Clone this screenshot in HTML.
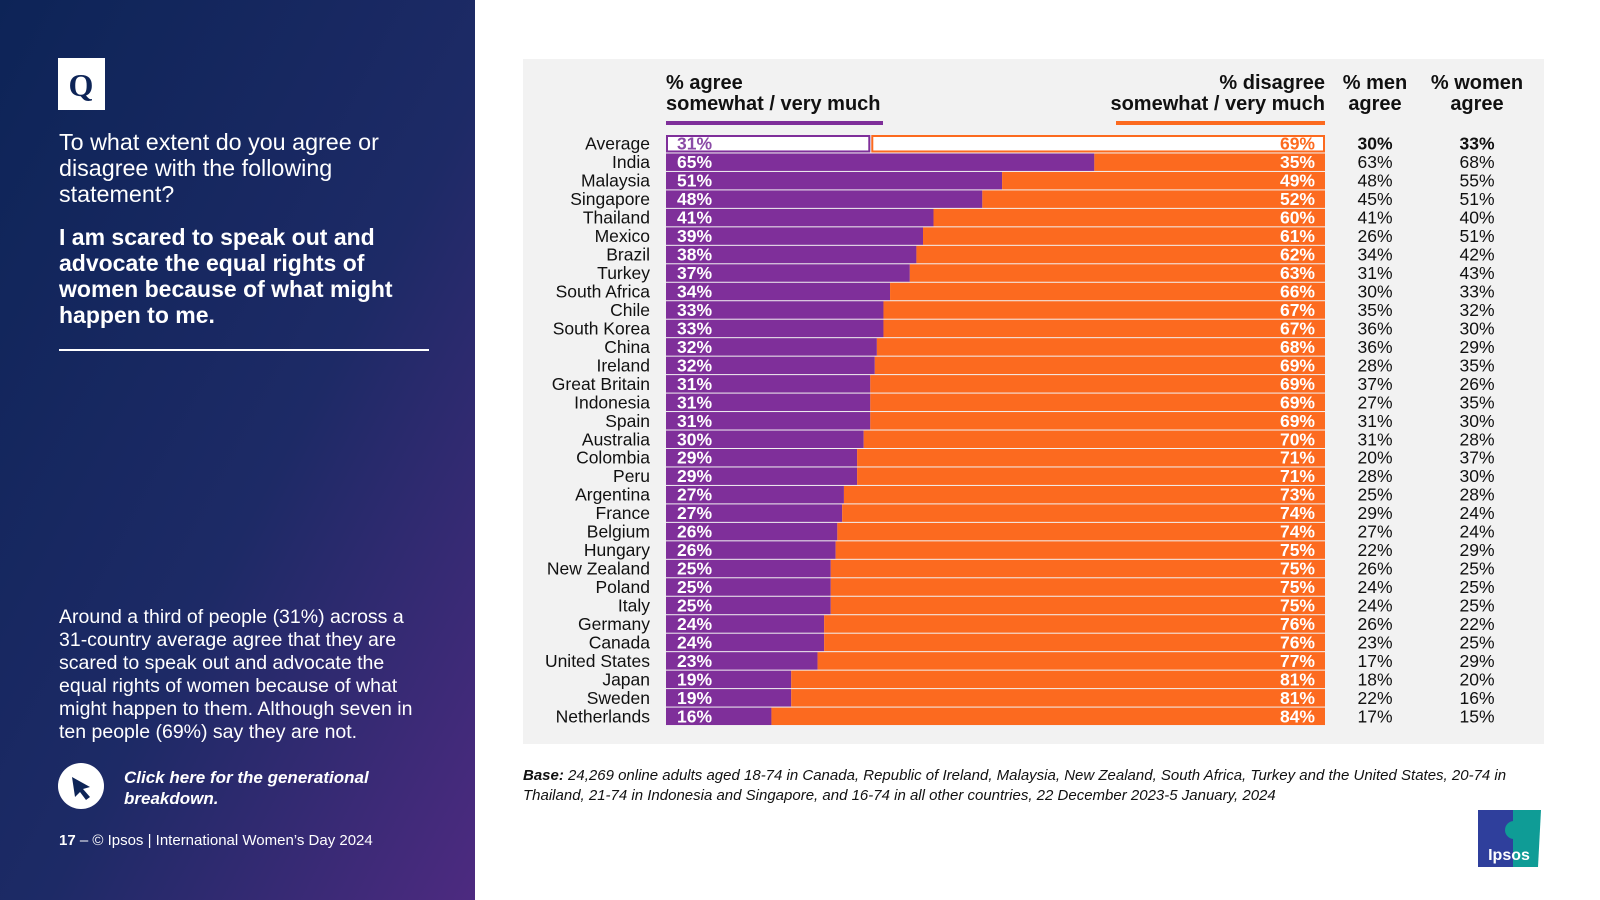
<!DOCTYPE html>
<html><head><meta charset="utf-8"><style>
body{margin:0;width:1600px;height:900px;overflow:hidden;background:#fff;font-family:"Liberation Sans",Arial,sans-serif;}
svg{display:block}
</style></head><body>
<svg width="1600" height="900">
<defs><linearGradient id="g" x1="0" y1="0" x2="1" y2="1"><stop offset="0" stop-color="#0d2457"/><stop offset="0.55" stop-color="#1d2a66"/><stop offset="1" stop-color="#4d2a80"/></linearGradient></defs>
<rect x="0" y="0" width="475" height="900" fill="url(#g)"/>
<rect x="58" y="58" width="47" height="52" fill="#fff"/>
<text x="81" y="96" text-anchor="middle" font-size="32" font-weight="bold" fill="#0d2457" font-family="Liberation Serif,serif">Q</text>
<g fill="#fff" font-size="23.3">
<text x="59" y="150">To what extent do you agree or</text>
<text x="59" y="176">disagree with the following</text>
<text x="59" y="202">statement?</text></g>
<g fill="#fff" font-size="23" font-weight="bold">
<text x="59" y="245">I am scared to speak out and</text>
<text x="59" y="271">advocate the equal rights of</text>
<text x="59" y="297">women because of what might</text>
<text x="59" y="323">happen to me.</text></g>
<rect x="59" y="349" width="370" height="2" fill="#fff"/>
<g fill="#fff" font-size="19.5">
<text x="59" y="623">Around a third of people (31%) across a</text>
<text x="59" y="646">31-country average agree that they are</text>
<text x="59" y="669">scared to speak out and advocate the</text>
<text x="59" y="692">equal rights of women because of what</text>
<text x="59" y="715">might happen to them. Although seven in</text>
<text x="59" y="738">ten people (69%) say they are not.</text></g>
<g>
<circle cx="81" cy="786" r="23" fill="#fff"/>
<path d="M72 777 L90 787 L83 789 L90 797 L86 800 L80 792 L75 797 Z" fill="#0d2457"/>
<text x="124" y="783" fill="#fff" font-size="17" font-style="italic" font-weight="bold">Click here for the generational</text>
<text x="124" y="804" fill="#fff" font-size="17" font-style="italic" font-weight="bold">breakdown.</text></g>
<text x="59" y="845" fill="#fff" font-size="15"><tspan font-weight="bold">17</tspan> – © Ipsos | International Women’s Day 2024</text>
<rect x="523" y="59" width="1021" height="685" fill="#f2f2f2"/>
<g font-size="20" font-weight="bold" fill="#111">
<text x="666" y="89">% agree</text><text x="666" y="110">somewhat / very much</text>
<text x="1325" y="89" text-anchor="end">% disagree</text><text x="1325" y="110" text-anchor="end">somewhat / very much</text>
<text x="1375" y="89" text-anchor="middle">% men</text><text x="1375" y="110" text-anchor="middle">agree</text>
<text x="1477" y="89" text-anchor="middle">% women</text><text x="1477" y="110" text-anchor="middle">agree</text></g>
<rect x="666" y="121" width="217" height="4" fill="#7f2f9a"/>
<rect x="1116" y="121" width="209" height="4" fill="#fc6a1f"/>
<g id="chart"></g>
<text x="523" y="780" font-size="15" font-style="italic" fill="#111"><tspan font-weight="bold">Base:</tspan> 24,269 online adults aged 18-74 in Canada, Republic of Ireland, Malaysia, New Zealand, South Africa, Turkey and the United States, 20-74 in</text>
<text x="523" y="800" font-size="15" font-style="italic" fill="#111">Thailand, 21-74 in Indonesia and Singapore, and 16-74 in all other countries, 22 December 2023-5 January, 2024</text>
<g>
<rect x="1478" y="810" width="35" height="57" fill="#2f3f9c"/><path d="M1513 810 H1541 L1538 867 H1513 Z" fill="#0f9c96"/>
<circle cx="1514" cy="830" r="9" fill="#0f9c96"/><text x="1509" y="860" text-anchor="middle" fill="#fff" font-size="16" font-weight="bold">Ipsos</text></g>
</svg>
<script>
const countries=["Average","India","Malaysia","Singapore","Thailand","Mexico","Brazil","Turkey","South Africa","Chile","South Korea","China","Ireland","Great Britain","Indonesia","Spain","Australia","Colombia","Peru","Argentina","France","Belgium","Hungary","New Zealand","Poland","Italy","Germany","Canada","United States","Japan","Sweden","Netherlands"];
const agree=[31,65,51,48,41,39,38,37,34,33,33,32,32,31,31,31,30,29,29,27,27,26,26,25,25,25,24,24,23,19,19,16];
const disagree=[69,35,49,52,60,61,62,63,66,67,67,68,69,69,69,69,70,71,71,73,74,74,75,75,75,75,76,76,77,81,81,84];
const men=[30,63,48,45,41,26,34,31,30,35,36,36,28,37,27,31,31,20,28,25,29,27,22,26,24,24,26,23,17,18,22,17];
const women=[33,68,55,51,40,51,42,43,33,32,30,29,35,26,35,30,28,37,30,28,24,24,29,25,25,25,22,25,29,20,16,15];
const NS="http://www.w3.org/2000/svg";
const g=document.getElementById('chart');
const x0=666,x1=1325,y0=135,pitch=18.47;
const xs=v=>x0+(x1-x0)*v/100;
const ys=i=>y0+i*pitch;
function mk(tag,attrs,txt){const e=document.createElementNS(NS,tag);for(const k in attrs)e.setAttribute(k,attrs[k]);if(txt!=null)e.textContent=txt;g.appendChild(e);return e;}
countries.forEach((c,i)=>{
  const y=ys(i),h=pitch-1,avg=i===0;
  const tot=agree[i]+disagree[i];
  const xa=xs(agree[i]*100/tot);
  let e=mk('rect',avg?{x:x0+1,y:y+1,width:xa-x0-2,height:h-2,fill:'#fff',stroke:'#7f2f9a','stroke-width':2}:{x:x0,y:y,width:xa-x0,height:h,fill:'#7f2f9a'});
  
  
  e=mk('rect',avg?{x:xa+2,y:y+1,width:x1-xa-3,height:h-2,fill:'#fff',stroke:'#fc6a1f','stroke-width':2}:{x:xa,y:y,width:x1-xa,height:h,fill:'#fc6a1f'});
  
  
  const ty=y+h/2+6;
  const f={'font-size':17.5,'font-family':'Liberation Sans, sans-serif'};
  e=mk('text',Object.assign({x:650,y:ty,'text-anchor':'end',fill:'#111'},f),c);
  
  
  e=mk('text',Object.assign({x:x0+11,y:ty,fill:avg?'#8a4aa6':'#fff','font-weight':'bold'},f),agree[i]+'%');
  
  
  e=mk('text',Object.assign({x:x1-10,y:ty,'text-anchor':'end',fill:avg?'#fc6a1f':'#fff','font-weight':'bold'},f),disagree[i]+'%');
  
  
  e=mk('text',Object.assign({x:1375,y:ty,'text-anchor':'middle',fill:'#111','font-weight':avg?'bold':'normal'},f),men[i]+'%');
  
  
  e=mk('text',Object.assign({x:1477,y:ty,'text-anchor':'middle',fill:'#111','font-weight':avg?'bold':'normal'},f),women[i]+'%');
  
  
});
</script>
</body></html>
